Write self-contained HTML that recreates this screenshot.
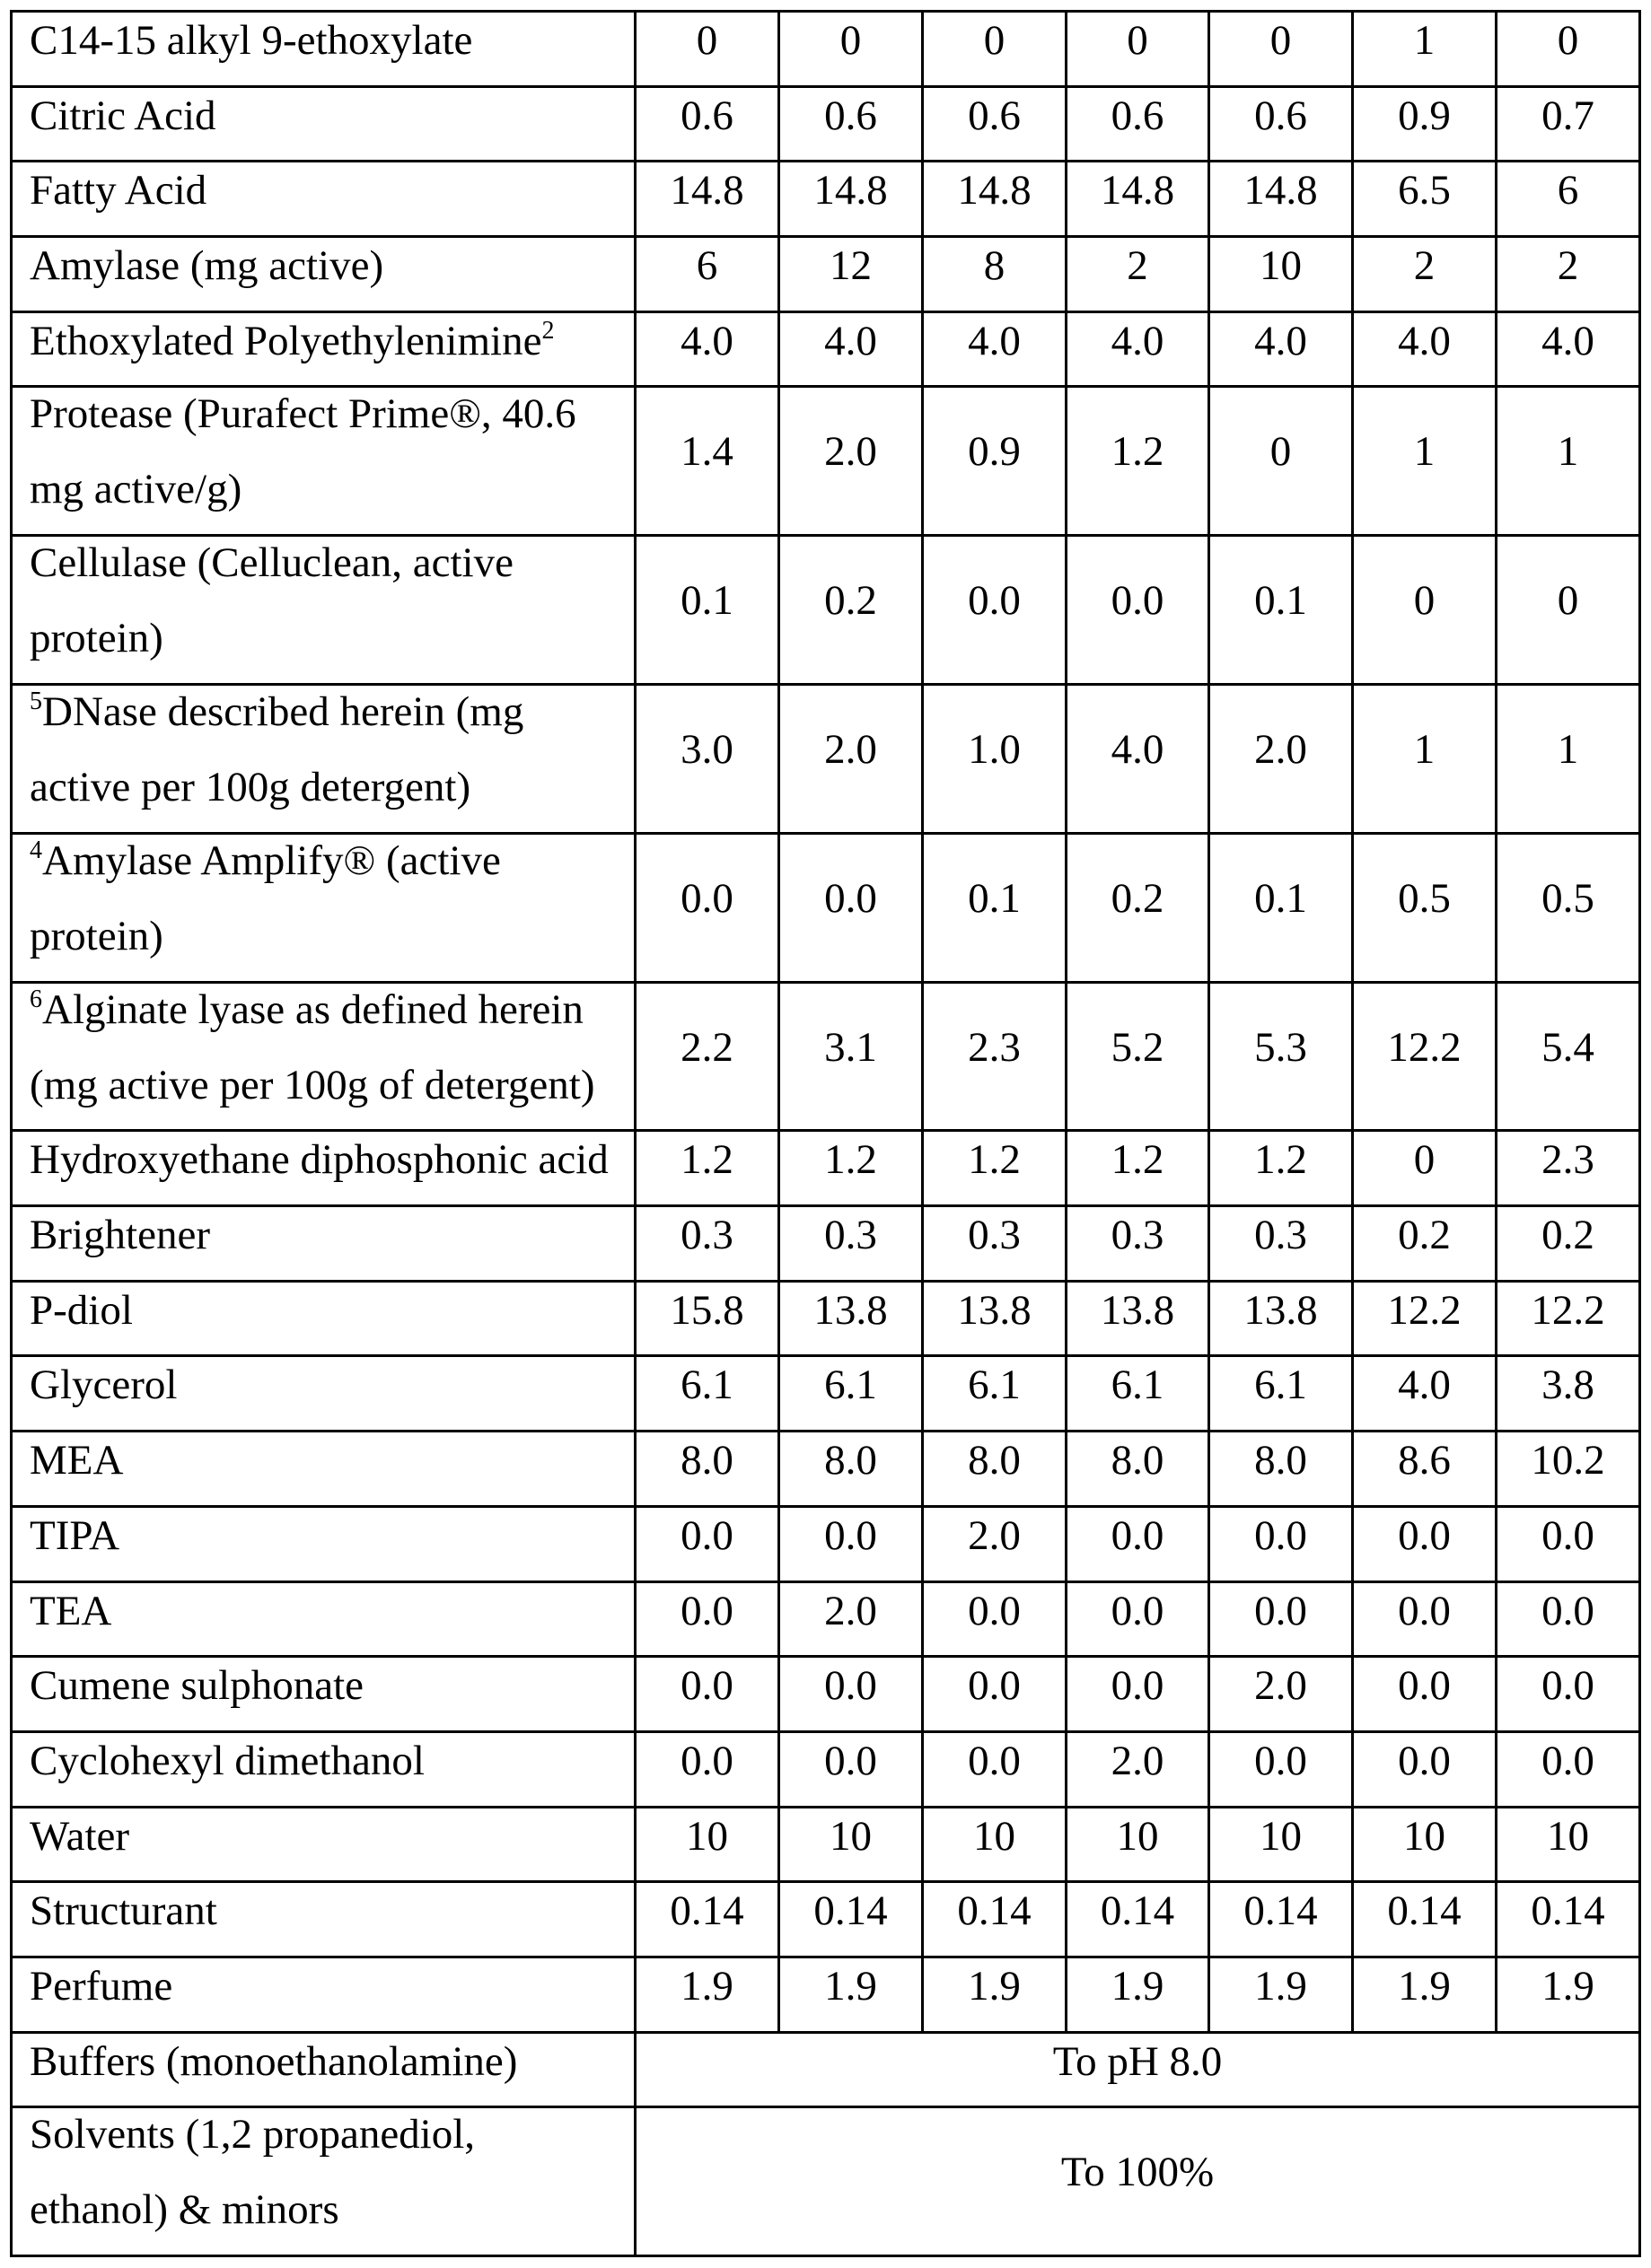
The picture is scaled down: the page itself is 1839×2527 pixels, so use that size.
<!DOCTYPE html>
<html><head><meta charset="utf-8"><style>
html,body{margin:0;padding:0;background:#fff;width:1839px;height:2527px;overflow:hidden}
table{position:absolute;left:11px;top:11px;border-collapse:collapse;table-layout:fixed;font-family:"Liberation Serif",serif;font-size:47px;color:#000}
td{border:3px solid #000;padding:0;vertical-align:top;text-align:center;line-height:62px;white-space:nowrap;overflow:hidden;box-sizing:border-box}
td.l{text-align:left;padding-left:19px}
tr.s td{height:83.7px;padding-top:0}
tr.d td{height:165.8px;padding-top:40px}
tr.d td.l{padding-top:0;line-height:84px}
tr.d td.l div{margin-top:-13px}
sup{font-size:28px;line-height:0;vertical-align:18px}
</style></head><body>
<table>
<colgroup><col style="width:695px"><col style="width:160px"><col style="width:160px"><col style="width:160px"><col style="width:159px"><col style="width:160px"><col style="width:160px"><col style="width:160px"></colgroup>
<tr class="s"><td class="l">C14-15 alkyl 9-ethoxylate</td><td>0</td><td>0</td><td>0</td><td>0</td><td>0</td><td>1</td><td>0</td></tr>
<tr class="s"><td class="l">Citric Acid</td><td>0.6</td><td>0.6</td><td>0.6</td><td>0.6</td><td>0.6</td><td>0.9</td><td>0.7</td></tr>
<tr class="s"><td class="l">Fatty Acid</td><td>14.8</td><td>14.8</td><td>14.8</td><td>14.8</td><td>14.8</td><td>6.5</td><td>6</td></tr>
<tr class="s"><td class="l">Amylase (mg active)</td><td>6</td><td>12</td><td>8</td><td>2</td><td>10</td><td>2</td><td>2</td></tr>
<tr class="s"><td class="l">Ethoxylated Polyethylenimine<sup>2</sup></td><td>4.0</td><td>4.0</td><td>4.0</td><td>4.0</td><td>4.0</td><td>4.0</td><td>4.0</td></tr>
<tr class="d"><td class="l"><div>Protease (Purafect Prime®, 40.6<br>mg active/g)</div></td><td>1.4</td><td>2.0</td><td>0.9</td><td>1.2</td><td>0</td><td>1</td><td>1</td></tr>
<tr class="d"><td class="l"><div>Cellulase (Celluclean, active<br>protein)</div></td><td>0.1</td><td>0.2</td><td>0.0</td><td>0.0</td><td>0.1</td><td>0</td><td>0</td></tr>
<tr class="d"><td class="l"><div><sup>5</sup>DNase described herein (mg<br>active per 100g detergent)</div></td><td>3.0</td><td>2.0</td><td>1.0</td><td>4.0</td><td>2.0</td><td>1</td><td>1</td></tr>
<tr class="d"><td class="l"><div><sup>4</sup>Amylase Amplify® (active<br>protein)</div></td><td>0.0</td><td>0.0</td><td>0.1</td><td>0.2</td><td>0.1</td><td>0.5</td><td>0.5</td></tr>
<tr class="d"><td class="l"><div><sup>6</sup>Alginate lyase as defined herein<br>(mg active per 100g of detergent)</div></td><td>2.2</td><td>3.1</td><td>2.3</td><td>5.2</td><td>5.3</td><td>12.2</td><td>5.4</td></tr>
<tr class="s"><td class="l">Hydroxyethane diphosphonic acid</td><td>1.2</td><td>1.2</td><td>1.2</td><td>1.2</td><td>1.2</td><td>0</td><td>2.3</td></tr>
<tr class="s"><td class="l">Brightener</td><td>0.3</td><td>0.3</td><td>0.3</td><td>0.3</td><td>0.3</td><td>0.2</td><td>0.2</td></tr>
<tr class="s"><td class="l">P-diol</td><td>15.8</td><td>13.8</td><td>13.8</td><td>13.8</td><td>13.8</td><td>12.2</td><td>12.2</td></tr>
<tr class="s"><td class="l">Glycerol</td><td>6.1</td><td>6.1</td><td>6.1</td><td>6.1</td><td>6.1</td><td>4.0</td><td>3.8</td></tr>
<tr class="s"><td class="l">MEA</td><td>8.0</td><td>8.0</td><td>8.0</td><td>8.0</td><td>8.0</td><td>8.6</td><td>10.2</td></tr>
<tr class="s"><td class="l">TIPA</td><td>0.0</td><td>0.0</td><td>2.0</td><td>0.0</td><td>0.0</td><td>0.0</td><td>0.0</td></tr>
<tr class="s"><td class="l">TEA</td><td>0.0</td><td>2.0</td><td>0.0</td><td>0.0</td><td>0.0</td><td>0.0</td><td>0.0</td></tr>
<tr class="s"><td class="l">Cumene sulphonate</td><td>0.0</td><td>0.0</td><td>0.0</td><td>0.0</td><td>2.0</td><td>0.0</td><td>0.0</td></tr>
<tr class="s"><td class="l">Cyclohexyl dimethanol</td><td>0.0</td><td>0.0</td><td>0.0</td><td>2.0</td><td>0.0</td><td>0.0</td><td>0.0</td></tr>
<tr class="s"><td class="l">Water</td><td>10</td><td>10</td><td>10</td><td>10</td><td>10</td><td>10</td><td>10</td></tr>
<tr class="s"><td class="l">Structurant</td><td>0.14</td><td>0.14</td><td>0.14</td><td>0.14</td><td>0.14</td><td>0.14</td><td>0.14</td></tr>
<tr class="s"><td class="l">Perfume</td><td>1.9</td><td>1.9</td><td>1.9</td><td>1.9</td><td>1.9</td><td>1.9</td><td>1.9</td></tr>
<tr class="s"><td class="l">Buffers (monoethanolamine)</td><td colspan="7">To pH 8.0</td></tr>
<tr class="d"><td class="l"><div>Solvents (1,2 propanediol,<br>ethanol) &amp; minors</div></td><td colspan="7">To 100%</td></tr>
</table>
</body></html>
